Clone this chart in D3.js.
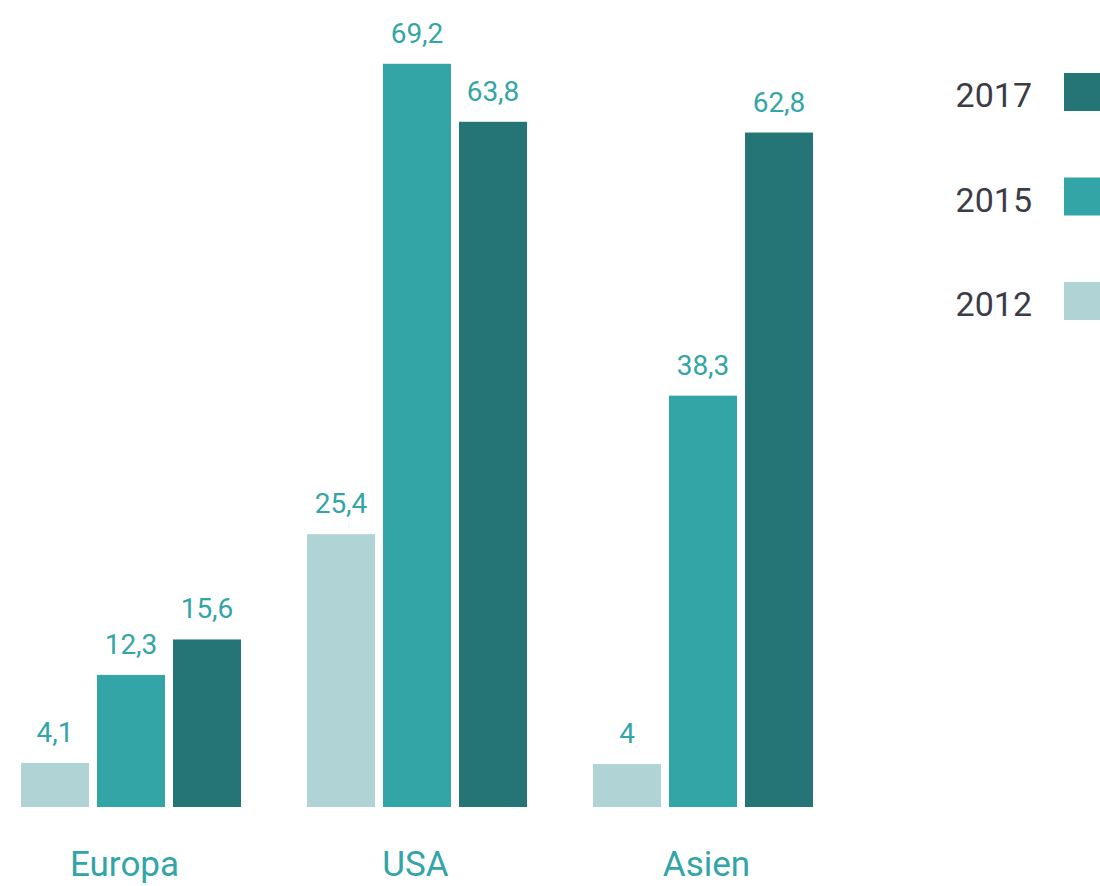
<!DOCTYPE html>
<meta charset="UTF-8">
<html>
<head>
    <title>Balkendiagramm</title>
</head>
<style>
    body {
        margin: 0;
        background: #fff;
    }

    text {
        font-family: Roboto, "Noto Sans", sans-serif;
    }
</style>

<body>
    <div id="chart"></div>

    <script src="https://d3js.org/d3.v7.min.js"></script>
    <script>
        // Daten
        const regions = ["Europa", "USA", "Asien"];
        const years = ["2012", "2015", "2017"];
        const values2012 = [4.1, 25.4, 4];
        const values2015 = [12.3, 69.2, 38.3];
        const values2017 = [15.6, 63.8, 62.8];
        const legendYears = ["2017", "2015", "2012"];

        const colors = { "2012": "#b0d4d5", "2015": "#33a5a7", "2017": "#267576" };
        const labelColor = "#33a5a7";

        const w = 1100;
        const h = 886;
        const baseY = 807;

        const series = { "2012": values2012, "2015": values2015, "2017": values2017 };
        const rows = regions.map((r, i) => ({
            region: r,
            bars: years.map(y => ({ year: y, value: series[y][i] }))
        }));

        const svg = d3.select("#chart")
            .append("svg")
            .attr("width", w)
            .attr("height", h);

        const x0 = d3.scaleBand()
            .domain(regions)
            .range([21, 813])
            .paddingInner(66 / 286)
            .paddingOuter(0);

        const x1 = d3.scaleBand()
            .domain(years)
            .range([0, x0.bandwidth()])
            .paddingInner(8 / 76);

        // Beschriftungen der Kategorien sitzen nicht ganz mittig unter den Gruppen
        const xLabel = d3.scalePoint()
            .domain(regions)
            .range([124, 706]);

        const y = d3.scaleLinear()
            .domain([0, 70])
            .range([baseY, baseY - 70 * 10.74]);

        const fmt = d3.formatLocale({ decimal: ",", thousands: ".", grouping: [3], currency: ["", "€"] }).format("~g");

        const groups = svg.selectAll("g.group")
            .data(rows)
            .enter()
            .append("g")
            .attr("class", "group")
            .attr("transform", d => `translate(${x0(d.region)},0)`);

        groups.selectAll("rect")
            .data(d => d.bars)
            .enter()
            .append("rect")
            .attr("x", d => x1(d.year))
            .attr("y", d => y(d.value))
            .attr("width", x1.bandwidth())
            .attr("height", d => baseY - y(d.value))
            .attr("fill", d => colors[d.year]);

        groups.selectAll("text.val")
            .data(d => d.bars)
            .enter()
            .append("text")
            .attr("class", "val")
            .attr("x", d => x1(d.year) + x1.bandwidth() / 2)
            .attr("y", d => y(d.value) - 21)
            .attr("text-anchor", "middle")
            .attr("font-size", 28)
            .attr("fill", labelColor)
            .text(d => fmt(d.value));

        // Kategorien
        const xAxis = svg.append("g")
            .attr("transform", `translate(0,${baseY})`)
            .call(d3.axisBottom(xLabel).tickSize(0).tickPadding(0));
        xAxis.select(".domain").remove();
        xAxis.selectAll("text")
            .attr("dy", null)
            .attr("y", 69)
            .attr("font-size", 35)
            .attr("font-family", "Roboto, 'Noto Sans', sans-serif")
            .attr("fill", labelColor);

        // Legende
        const legend = svg.selectAll("g.legend")
            .data(legendYears)
            .enter()
            .append("g")
            .attr("class", "legend")
            .attr("transform", (d, i) => `translate(0,${73 + i * 104.5})`);

        legend.append("rect")
            .attr("x", 1064)
            .attr("y", 0)
            .attr("width", 40)
            .attr("height", 38)
            .attr("fill", d => colors[d]);

        legend.append("text")
            .attr("x", 1032)
            .attr("y", 34)
            .attr("text-anchor", "end")
            .attr("font-size", 34)
            .attr("fill", "#3c3c46")
            .text(d => d);
    </script>
</body>
</html>
